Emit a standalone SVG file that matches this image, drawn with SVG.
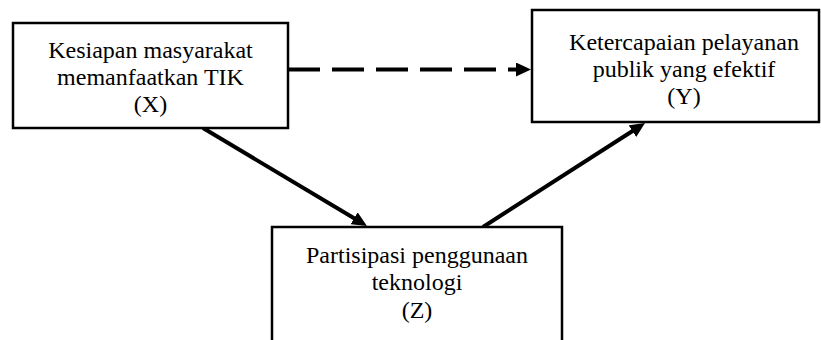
<svg xmlns="http://www.w3.org/2000/svg" width="821" height="340" viewBox="0 0 821 340">
<style>
.box{fill:#fff;stroke:#000;stroke-width:2.5}
.t{font-family:"Liberation Serif","Times New Roman",serif;font-size:24px;fill:#000;text-anchor:middle}
.ln{stroke:#000;stroke-width:4;fill:none}
</style>
<defs>
<marker id="ah" markerUnits="userSpaceOnUse" markerWidth="16" markerHeight="14" refX="2" refY="7" orient="auto">
<path d="M0,0 L15,7 L0,14 z" fill="#000"/>
</marker>
</defs>
<rect width="821" height="340" fill="#fff"/>
<g id="connectors">
<line class="ln" x1="288" y1="69.5" x2="518" y2="69.5" stroke-dasharray="32 12" marker-end="url(#ah)"/>
<line class="ln" x1="203" y1="128" x2="355.8" y2="219.3" marker-end="url(#ah)"/>
<line class="ln" x1="483" y1="227" x2="634.1" y2="130" marker-end="url(#ah)"/>
</g>
<g id="node-x">
<rect class="box" x="13" y="23" width="275" height="105"/>
<text class="t" x="150.5" y="58">Kesiapan masyarakat</text>
<text class="t" x="150.5" y="85">memanfaatkan TIK</text>
<text class="t" x="150.5" y="112">(X)</text>
</g>
<g id="node-y">
<rect class="box" x="532" y="10" width="287" height="112"/>
<text class="t" x="684" y="50">Ketercapaian pelayanan</text>
<text class="t" x="684" y="77">publik yang efektif</text>
<text class="t" x="684" y="104">(Y)</text>
</g>
<g id="node-z">
<rect class="box" x="272" y="227" width="290" height="150"/>
<text class="t" x="417" y="263">Partisipasi penggunaan</text>
<text class="t" x="417" y="290">teknologi</text>
<text class="t" x="417" y="318">(Z)</text>
</g>
</svg>
